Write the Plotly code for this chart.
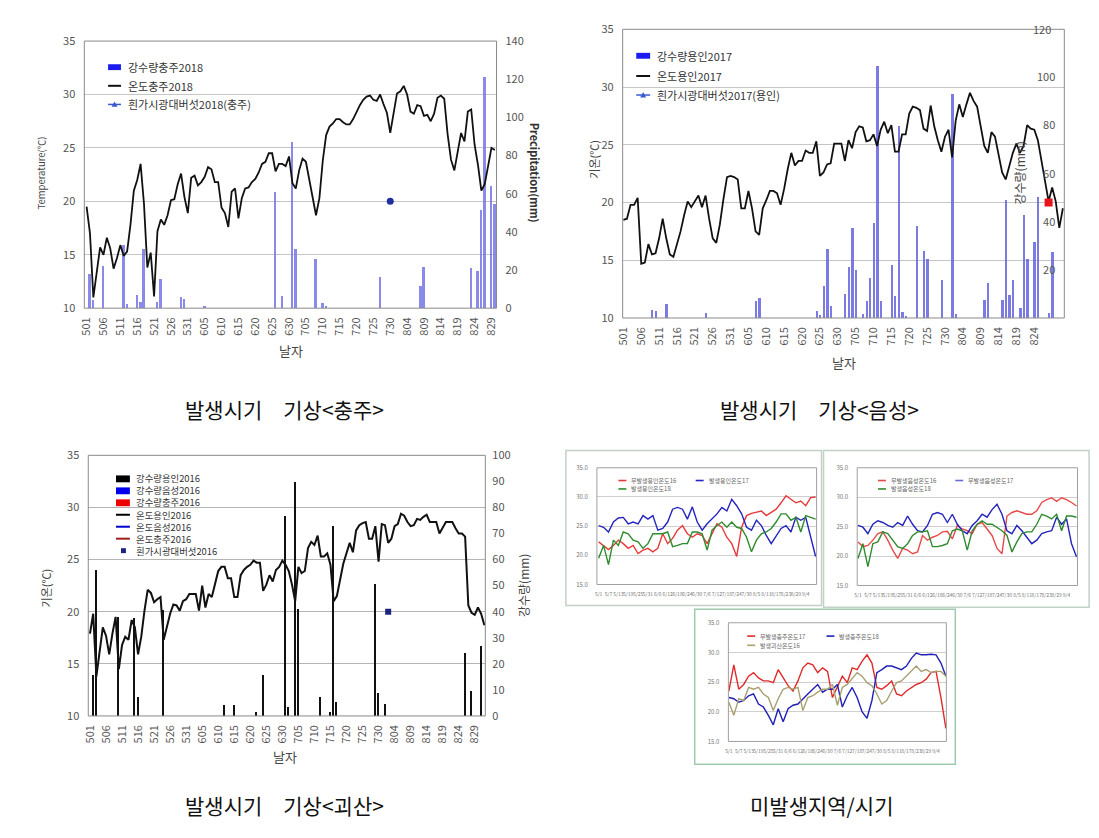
import plotly.graph_objects as go

W, H = 1099, 838
FONT = "Noto Sans CJK KR"

# ---------------- data ----------------
date_labels = ['501', '506', '511', '516', '521', '526', '531', '605', '610', '615', '620', '625', '630',
               '705', '710', '715', '720', '725', '730', '804', '809', '814', '819', '824', '829']

# Panel 1 : Chungju 2018
temp_chungju_2018 = [19.5, 17.0, 11.0, 13.5, 15.7, 15.0, 16.6, 15.6, 13.7, 14.7,
                     15.9, 14.9, 15.3, 17.8, 21.0, 22.0, 23.5, 19.8, 13.8, 15.2,
                     11.1, 17.2, 18.3, 17.8, 18.7, 20.1, 20.2, 21.6, 22.6, 20.4,
                     18.9, 22.2, 22.4, 21.5, 21.8, 22.3, 23.2, 23.0, 21.8, 21.8,
                     19.4, 18.9, 17.6, 20.9, 21.2, 18.4, 20.3, 21.2, 21.3, 21.8,
                     22.1, 22.7, 23.5, 23.7, 24.5, 24.5, 22.8, 23.5, 23.5, 23.3,
                     24.2, 21.7, 21.2, 22.9, 24.0, 23.7, 22.0, 20.4, 18.7, 20.3,
                     23.8, 26.2, 27.0, 27.3, 27.7, 27.7, 27.4, 27.2, 27.2, 27.7,
                     28.4, 29.0, 29.5, 29.8, 29.9, 29.5, 29.4, 30.0, 29.1, 28.3,
                     26.4, 28.2, 30.1, 30.3, 30.8, 30.0, 28.4, 28.2, 29.0, 28.9,
                     28.0, 28.1, 27.5, 28.2, 29.7, 29.9, 29.6, 26.3, 23.9, 22.9,
                     24.8, 26.4, 25.6, 28.4, 28.6, 25.3, 23.4, 21.0, 21.6, 23.2,
                     25.0, 24.8]
rain_chungju_2018_day = [1, 2, 5, 11, 12, 15, 16, 17, 21, 22, 28, 29, 35, 56, 58, 61, 62, 68, 70, 71,
                         87, 99, 100, 114, 116, 117, 118, 120, 121]
rain_chungju_2018_mm = [18, 4, 22, 33, 2, 7, 3, 31, 3.4, 15.4, 6, 4.8, 1, 61, 6.5, 87, 31, 25.7, 2.6, 1.2,
                        16.3, 11.5, 21.4, 21.1, 19.7, 51.4, 121, 63.8, 54.8]
mush_chungju_2018_day = [90]
mush_chungju_2018_temp = [20]

# Panel 2 : Yongin 2017
temp_yongin_2017 = [18.5, 18.6, 19.8, 19.8, 20.4, 14.7, 14.8, 16.4, 15.5, 15.6,
                    16.9, 18.6, 16.9, 15.5, 15.3, 16.4, 17.5, 18.9, 20.1, 19.6,
                    20.1, 20.6, 19.6, 20.6, 18.6, 16.9, 16.5, 18.1, 20.3, 22.2,
                    22.3, 22.2, 22.0, 19.5, 19.5, 21.0, 19.5, 17.5, 17.2, 19.5,
                    20.2, 21.0, 21.0, 20.8, 19.8, 21.2, 22.9, 24.3, 23.2, 23.6,
                    23.6, 24.5, 24.3, 24.3, 25.3, 22.3, 22.6, 23.3, 23.4, 25.1,
                    25.1, 25.1, 23.6, 25.4, 24.7, 26.1, 26.6, 26.5, 25.3, 25.4,
                    25.9, 24.9, 26.3, 27.0, 26.0, 26.7, 24.4, 24.4, 25.9, 25.9,
                    27.7, 28.3, 28.2, 28.0, 26.4, 26.2, 28.4, 26.6, 25.4, 24.4,
                    25.7, 26.3, 23.9, 27.1, 28.5, 27.4, 28.5, 29.5, 28.8, 28.3,
                    26.6, 24.9, 24.3, 26.1, 25.7, 24.0, 22.6, 22.0, 23.2, 24.3,
                    25.1, 24.3, 24.9, 26.7, 26.4, 26.3, 25.4, 23.7, 22.0, 20.1,
                    21.3, 20.1, 17.8, 19.5]
rain_yongin_2017_day = [8, 9, 12, 23, 37, 38, 54, 55, 56, 57, 58, 62, 63, 64, 65, 67, 68, 69, 70, 71,
                        72, 75, 76, 77, 78, 79, 82, 84, 85, 89, 92, 93, 101, 102, 106, 107, 108, 109,
                        111, 112, 113, 115, 116, 119, 120]
rain_yongin_2017_mm = [3.4, 2.7, 5.8, 2.0, 6.8, 8.2, 2.7, 1.0, 13, 28.5, 5, 10, 21, 37.4, 19.7, 1.4, 6.8,
                       16.3, 39.4, 104.6, 6.8, 21.7, 9.1, 79.5, 2.3, 0.7, 38, 27.9, 24.5, 15.6, 92.8, 1.4,
                       7.5, 14.3, 7.5, 49, 9.5, 15.6, 4, 42.8, 24.5, 31.3, 50.3, 2, 27.2]
mush_yongin_2017_day = [119]
mush_yongin_2017_temp = [20]

# Panel 3 : Goesan 2016
temp_goesan_2016 = [17.9, 19.8, 13.8, 16.0, 18.5, 17.7, 15.9, 17.9, 19.5, 14.5,
                    16.8, 17.6, 17.3, 19.2, 18.5, 15.9, 17.6, 20.1, 22.1, 21.8,
                    20.9, 21.2, 21.4, 17.3, 18.5, 19.8, 20.7, 20.6, 20.1, 21.0,
                    21.2, 21.7, 21.7, 21.7, 20.1, 22.5, 20.4, 21.7, 21.4, 22.6,
                    23.9, 24.3, 24.3, 23.2, 23.2, 21.4, 21.4, 23.5, 24.0, 24.3,
                    24.5, 24.9, 24.7, 24.7, 22.0, 22.6, 23.5, 22.9, 24.0, 24.3,
                    24.9, 24.5, 23.9, 22.6, 21.0, 24.3, 23.7, 23.9, 26.1, 26.7,
                    26.4, 27.3, 25.3, 25.3, 25.6, 24.5, 21.0, 21.5, 23.2, 24.6,
                    25.6, 26.6, 25.7, 27.8, 28.3, 28.5, 28.6, 27.0, 27.0, 28.2,
                    24.8, 28.4, 28.3, 26.6, 27.0, 28.2, 28.4, 29.4, 29.2, 28.6,
                    28.2, 28.3, 28.9, 28.8, 29.1, 29.3, 28.6, 28.6, 28.6, 27.5,
                    28.1, 28.6, 28.6, 28.6, 28.0, 27.5, 27.5, 27.2, 20.6, 19.9,
                    19.7, 20.4, 19.8, 18.7]
rain_goesan_2016_day = [1, 2, 9, 14, 15, 23, 42, 45, 52, 54, 61, 62, 64, 65, 72, 75, 76, 77, 89, 90,
                        92, 117, 119, 122]
rain_goesan_2016_mm = [15.6, 55.7, 37.9, 37.3, 7.2, 40.4, 4, 4, 1.5, 15.6, 76.5, 3.4, 89.6, 41, 7.2, 1.3,
                       72.8, 5.3, 50.4, 8.8, 4.3, 24.1, 9.3, 26.6]
mush_goesan_2016_day = [93]
mush_goesan_2016_temp = [20]

# Mini charts (non-occurrence areas / periods)
mini_tick_labels = ['5/1', '5/7', '5/13', '5/19', '5/25', '5/31', '6/6', '6/12', '6/18', '6/24', '6/30',
                    '7/6', '7/12', '7/18', '7/24', '7/30', '8/5', '8/11', '8/17', '8/23', '8/29', '9/4']
mini_y_ticks = [15, 20, 25, 30, 35]

miniA_red = [22.3, 21.7, 21.0, 21.7, 22.6, 22.0, 21.2, 21.7, 20.3, 20.9, 21.2, 20.6, 21.2, 23.7, 22.0,
             22.9, 24.3, 25.1, 23.7, 23.1, 23.7, 23.4, 22.0, 23.7, 25.4, 24.8, 23.1, 22.0, 19.8, 24.8,
             26.8, 27.2, 27.4, 27.6, 26.8, 27.4, 27.9, 29.0, 30.2, 29.6, 29.0, 29.3, 28.5, 29.9, 30.0]
miniA_blue = [25.1, 24.8, 24.0, 25.7, 26.4, 26.5, 25.4, 25.7, 25.4, 26.8, 26.2, 26.8, 24.3, 24.6, 25.7,
              27.9, 28.2, 27.9, 26.2, 28.3, 25.7, 24.3, 25.4, 26.2, 27.1, 28.2, 27.6, 29.6, 28.5, 27.1,
              24.8, 24.3, 26.0, 25.1, 23.4, 22.0, 23.4, 24.6, 25.1, 24.0, 26.5, 26.0, 26.5, 22.9, 19.8]
miniA_green = [19.5, 21.7, 18.4, 22.6, 21.7, 24.0, 23.7, 22.6, 22.3, 21.2, 22.0, 23.7, 23.7, 23.7, 24.0,
               21.5, 21.7, 22.0, 22.0, 24.0, 24.0, 23.7, 20.9, 24.3, 25.1, 25.7, 24.8, 25.7, 24.8, 24.6,
               23.1, 20.6, 22.6, 23.7, 24.0, 24.6, 25.7, 27.1, 27.1, 26.0, 26.5, 24.0, 26.8, 26.5, 26.2]

miniB_red = [22.4, 21.6, 21.8, 22.7, 23.8, 24.1, 22.7, 21.0, 19.6, 21.3, 21.0, 20.4, 20.7, 23.5, 22.7,
             23.2, 23.5, 24.1, 24.2, 22.9, 25.2, 24.6, 24.3, 23.8, 25.4, 25.7, 24.6, 23.5, 21.3, 20.4,
             26.8, 27.4, 27.7, 27.4, 27.1, 27.1, 27.7, 29.1, 29.6, 29.9, 29.3, 29.9, 29.6, 29.1, 28.5]
miniB_blue = [25.2, 24.9, 23.8, 25.4, 26.0, 25.7, 25.2, 24.9, 25.7, 25.2, 26.8, 25.4, 24.3, 24.1, 25.2,
              27.1, 27.4, 27.1, 25.7, 27.1, 25.4, 24.3, 23.8, 25.2, 26.0, 27.1, 26.6, 27.9, 28.8, 27.1,
              24.3, 23.8, 25.2, 24.3, 23.2, 22.1, 22.7, 23.8, 24.1, 24.3, 26.6, 25.4, 26.3, 22.1, 19.9]
miniB_green = [19.6, 22.1, 18.2, 22.1, 22.4, 24.1, 23.8, 22.7, 21.6, 21.3, 22.1, 23.5, 24.1, 24.1, 24.3,
               21.6, 21.6, 21.8, 22.1, 24.3, 24.6, 24.3, 21.0, 24.3, 25.4, 26.0, 25.4, 25.4, 24.9, 24.3,
               23.5, 20.7, 22.4, 23.8, 24.1, 24.1, 25.4, 27.1, 26.8, 26.3, 27.1, 24.3, 26.8, 26.8, 26.6]

miniC_red = [23.5, 27.9, 23.8, 24.6, 26.0, 26.6, 25.7, 25.2, 25.2, 24.9, 27.1, 25.7, 24.4, 23.5, 25.2,
             27.4, 28.2, 27.9, 26.6, 27.4, 26.8, 22.4, 24.1, 26.0, 24.9, 27.4, 27.1, 28.5, 29.6, 28.2,
             24.1, 23.8, 24.4, 25.2, 23.0, 22.7, 23.5, 24.1, 24.6, 24.9, 25.5, 26.6, 26.8, 22.4, 17.2]
miniC_blue = [22.4, 22.2, 21.6, 21.9, 22.7, 23.0, 21.3, 20.8, 19.4, 17.8, 20.5, 18.3, 20.5, 21.1, 21.3,
              22.2, 23.0, 23.8, 24.6, 23.3, 23.8, 23.8, 24.6, 20.8, 22.7, 24.1, 22.4, 20.0, 18.9, 21.9,
              26.6, 27.1, 27.7, 27.7, 27.4, 27.1, 27.7, 29.0, 29.9, 29.6, 29.6, 29.7, 29.6, 28.2, 26.0]
miniC_olive = [21.6, 19.4, 22.2, 21.9, 24.1, 23.8, 24.1, 23.0, 22.4, 20.2, 22.2, 23.8, 24.1, 23.8, 24.1,
               20.2, 22.4, 22.7, 23.3, 23.8, 23.8, 24.6, 21.1, 24.1, 24.6, 25.7, 26.6, 26.0, 24.9, 24.4,
               23.0, 21.3, 21.9, 23.5, 24.9, 25.2, 26.0, 26.8, 27.7, 26.8, 27.1, 26.6, 26.8, 26.8, 26.0]

# ---------------- helpers ----------------
def fx(p):
    return p / W


def fy(p):
    return 1 - p / H


shapes = []
annotations = []


def text(x, y, s, size, color='#333', xanchor='left', angle=0, bold=False, align='left'):
    if bold:
        s = '<b>' + s + '</b>'
    annotations.append(dict(x=fx(x), y=fy(y), xref='paper', yref='paper', text=s, showarrow=False,
                            xanchor=xanchor, yanchor='middle', textangle=angle, align=align,
                            font=dict(family=FONT, size=size, color=color)))


def leg_rect(x0, x1, yc, h, color):
    shapes.append(dict(type='rect', xref='paper', yref='paper', x0=fx(x0), x1=fx(x1),
                       y0=fy(yc + h / 2), y1=fy(yc - h / 2), fillcolor=color, line=dict(width=0)))


def leg_line(x0, x1, yc, color, w=1.8):
    shapes.append(dict(type='line', xref='paper', yref='paper', x0=fx(x0), x1=fx(x1),
                       y0=fy(yc), y1=fy(yc), line=dict(color=color, width=w)))


def leg_tri(xc, yc, s, color):
    path = (f"M {fx(xc - s)},{fy(yc + s * 0.8)} L {fx(xc + s)},{fy(yc + s * 0.8)} "
            f"L {fx(xc)},{fy(yc - s)} Z")
    shapes.append(dict(type='path', xref='paper', yref='paper', path=path, fillcolor=color,
                       line=dict(width=0)))


def box(x0, y0, x1, y1, color, w=1.2):
    shapes.append(dict(type='rect', xref='paper', yref='paper', x0=fx(x0), x1=fx(x1),
                       y0=fy(y1), y1=fy(y0), line=dict(color=color, width=w), fillcolor='rgba(0,0,0,0)'))


def frame(xa, ya, color='#8a8a8a', w=1):
    shapes.append(dict(type='rect', xref=xa + ' domain', yref=ya + ' domain', x0=0, x1=1, y0=0, y1=1,
                       line=dict(color=color, width=w), layer='above'))


axis_font = dict(family=FONT, size=11, color='#555')


def date_axis(left, right, rng, anchor):
    return dict(domain=[fx(left), fx(right)], range=rng, anchor=anchor,
                tickmode='array', tickvals=list(range(0, 5 * len(date_labels), 5)), ticktext=date_labels,
                tickangle=-90, tickfont=axis_font, showgrid=False, zeroline=False, showline=False,
                ticks='', ticklabelstandoff=6)


def temp_axis(overlay, anchor, gridcolor):
    return dict(overlaying=overlay, anchor=anchor, side='left', range=[10, 35],
                tickvals=[10, 15, 20, 25, 30, 35], showgrid=True, gridcolor=gridcolor, gridwidth=1,
                zeroline=False, showline=False, tickfont=axis_font, ticks='', ticklabelstandoff=8)


def rain_axis(top, bottom, anchor, maxv, step, inside=False, standoff=8):
    return dict(domain=[fy(bottom), fy(top)], anchor=anchor, side='right', range=[0, maxv],
                tickvals=list(range(0, maxv + 1, step)), showgrid=False, zeroline=False, showline=False,
                tickfont=axis_font, ticks='', ticklabelstandoff=standoff,
                ticklabelposition='inside' if inside else 'outside')


def mini_axes(left, right, top, bottom, rng, xname, yname):
    xa = dict(domain=[fx(left), fx(right)], anchor=yname, range=rng, tickmode='array',
              tickvals=list(range(0, 2 * len(mini_tick_labels), 2)), ticktext=mini_tick_labels,
              tickfont=dict(family=FONT, size=5, color='#777'), tickangle=0, showgrid=False,
              zeroline=False, showline=False, ticks='', ticklabelstandoff=6)
    ya = dict(domain=[fy(bottom), fy(top)], anchor=xname, range=[15, 35], tickmode='array',
              tickvals=mini_y_ticks, ticktext=[f"{v:.1f}" for v in mini_y_ticks],
              tickfont=dict(family=FONT, size=6, color='#777'), showgrid=True, gridcolor='#cfcfcf',
              zeroline=False, showline=False, ticks='', ticklabelstandoff=8)
    return xa, ya


# ---------------- figure ----------------
fig = go.Figure()

# Panel 1
fig.add_trace(go.Bar(x=rain_chungju_2018_day, y=rain_chungju_2018_mm, xaxis='x', yaxis='y', width=0.75,
                     marker=dict(color='rgba(118,118,228,0.85)', line=dict(width=0)), showlegend=False))
fig.add_trace(go.Scatter(x=list(range(len(temp_chungju_2018))), y=temp_chungju_2018, xaxis='x', yaxis='y2',
                         mode='lines', line=dict(color='#111', width=1.8), showlegend=False))
fig.add_trace(go.Scatter(x=mush_chungju_2018_day, y=mush_chungju_2018_temp, xaxis='x', yaxis='y2',
                         mode='markers', marker=dict(color='#1f2f9f', size=7, symbol='circle'),
                         showlegend=False))

# Panel 2
fig.add_trace(go.Bar(x=rain_yongin_2017_day, y=rain_yongin_2017_mm, xaxis='x2', yaxis='y3', width=0.65,
                     marker=dict(color='rgba(100,100,220,0.85)', line=dict(width=0)), showlegend=False))
fig.add_trace(go.Scatter(x=list(range(len(temp_yongin_2017))), y=temp_yongin_2017, xaxis='x2', yaxis='y4',
                         mode='lines', line=dict(color='#111', width=1.8), showlegend=False))
fig.add_trace(go.Scatter(x=mush_yongin_2017_day, y=mush_yongin_2017_temp, xaxis='x2', yaxis='y4',
                         mode='markers', marker=dict(color='#e8141c', size=8, symbol='square'),
                         showlegend=False))

# Panel 3
fig.add_trace(go.Bar(x=rain_goesan_2016_day, y=rain_goesan_2016_mm, xaxis='x3', yaxis='y5', width=0.4,
                     marker=dict(color='#111', line=dict(width=0)), showlegend=False))
fig.add_trace(go.Scatter(x=list(range(len(temp_goesan_2016))), y=temp_goesan_2016, xaxis='x3', yaxis='y6',
                         mode='lines', line=dict(color='#111', width=2), showlegend=False))
fig.add_trace(go.Scatter(x=mush_goesan_2016_day, y=mush_goesan_2016_temp, xaxis='x3', yaxis='y6',
                         mode='markers', marker=dict(color='#1a237e', size=6, symbol='square'),
                         showlegend=False))

# Mini charts
mini_sets = [
    ('x4', 'y7', [(miniA_red, '#e83a3a'), (miniA_blue, '#2424c0'), (miniA_green, '#2e8b2e')]),
    ('x5', 'y8', [(miniB_red, '#e84a4a'), (miniB_blue, '#2424c0'), (miniB_green, '#2e8b2e')]),
    ('x6', 'y9', [(miniC_red, '#e02a2a'), (miniC_blue, '#2020b8'), (miniC_olive, '#a8a070')]),
]
for xa, ya, series in mini_sets:
    for vals, col in series:
        fig.add_trace(go.Scatter(x=list(range(len(vals))), y=vals, xaxis=xa, yaxis=ya, mode='lines',
                                 line=dict(color=col, width=1.4), showlegend=False))

# ---------------- layout ----------------
layout = dict(
    width=W, height=H, autosize=False, margin=dict(l=0, r=0, t=0, b=0),
    paper_bgcolor='white', plot_bgcolor='white', bargap=0,
    font=dict(family=FONT),
    xaxis=date_axis(76, 492, [-0.68, 121.5], 'y'),
    yaxis=rain_axis(32.7, 305, 'x', 140, 20),
    yaxis2=temp_axis('y', 'x', '#c6c6c6'),
    xaxis2=date_axis(619.3, 1065, [-0.2, 123.4], 'y3'),
    yaxis3=rain_axis(20.7, 315, 'x2', 120, 20, inside=True, standoff=6),
    yaxis4=temp_axis('y3', 'x2', '#c6c6c6'),
    xaxis3=date_axis(80, 480.7, [-0.53, 123.3], 'y5'),
    yaxis5=rain_axis(455, 720.7, 'x3', 100, 10, standoff=6),
    yaxis6=temp_axis('y5', 'x3', '#b4b4b4'),
)
layout['xaxis4'], layout['yaxis7'] = mini_axes(593.3, 815, 467.7, 586.7, [-0.35, 44.2], 'x4', 'y7')
layout['xaxis5'], layout['yaxis8'] = mini_axes(856, 1078.3, 467.7, 587.7, [-0.15, 44.2], 'x5', 'y8')
layout['xaxis6'], layout['yaxis9'] = mini_axes(726, 946, 625.7, 746.7, [-0.1, 44.1], 'x6', 'y9')

# frames of plot areas
frame('x', 'y')
frame('x2', 'y3')
frame('x3', 'y5')
frame('x4', 'y7', '#a0a0a0')
frame('x5', 'y8', '#a0a0a0')
frame('x6', 'y9', '#a0a0a0')

# outer boxes of mini charts
box(562, 450, 820, 608, '#c2d2c6', 1.5)
box(822, 450, 1090, 610, '#c2d2c6', 1.5)
box(692, 612, 955, 770, '#9fc9ac', 1.5)

# ---- Panel 1 texts / legend
text(32, 167, 'Temperature(℃)', 9.5, '#444', 'center', -90)
text(531.7, 166.7, 'Precipitation(mm)', 11, '#333', 'center', 90, bold=True)
text(285, 348, '날자', 13, '#444', 'center')
leg_rect(100, 113, 59.3, 6, '#1c1cf0')
leg_line(100, 113, 78.3, '#111', 2)
leg_line(100, 113, 97.3, '#3a5ad0', 1.5)
leg_tri(106.5, 97.3, 3, '#3a5ad0')
text(118, 59.3, '강수량충주2018', 11, '#333')
text(118, 78.3, '온도충주2018', 11, '#333')
text(118, 97.3, '흰가시광대버섯2018(충주)', 11, '#333')

# ---- Panel 2 texts / legend
text(590, 153, '기온(℃)', 11, '#444', 'center', -90)
text(1020, 167, '강수량(mm)', 12, '#444', 'center', -90)
text(843, 360, '날자', 13, '#444', 'center')
text(1054, 20.7, '120', 11, '#555', 'right')
leg_rect(633, 647, 47.7, 6, '#1c1cf0')
leg_line(633, 647, 68.3, '#111', 2)
leg_line(633, 647, 87.7, '#3a5ad0', 1.5)
leg_tri(640, 87.7, 3, '#3a5ad0')
text(652, 47.7, '강수량용인2017', 11, '#333')
text(652, 68.3, '온도용인2017', 11, '#333')
text(652, 87.7, '흰가시광대버섯2017(용인)', 11, '#333')

# ---- Panel 3 texts / legend
text(37, 590, '기온(℃)', 11, '#444', 'center', -90)
text(519, 588, '강수량(mm)', 12, '#444', 'center', -90)
text(279, 762, '날자', 13, '#444', 'center')
leg_rows = [479, 491.2, 503.4, 515.6, 527.8, 540, 552.2]
leg_rect(108, 122, leg_rows[0], 7, '#000000')
leg_rect(108, 122, leg_rows[1], 7, '#0000ee')
leg_rect(108, 122, leg_rows[2], 7, '#ee0000')
leg_line(108, 122, leg_rows[3], '#000000', 2)
leg_line(108, 122, leg_rows[4], '#0000cc', 2)
leg_line(108, 122, leg_rows[5], '#a01e1e', 2)
leg_rect(113, 118, leg_rows[6], 5, '#1a237e')
p3_labels = ['강수량용인2016', '강수량음성2016', '강수량충주2016', '온도용인2016', '온도음성2016',
             '온도충주2016', '흰가시광대버섯2016']
text(126, (leg_rows[0] + leg_rows[-1]) / 2, '<br>'.join(p3_labels), 9.4, '#333')

# ---- Mini legends
mini_leg = [
    (615, 693, 480.7, 489.3, ['무발생용인온도16', '발생용인온도17', '발생용인온도18'],
     ['#e83a3a', '#2424c0', '#2e8b2e']),
    (877, 955, 480.7, 489.3, ['무발생음성온도16', '무발생음성온도17', '발생음성온도18'],
     ['#e84a4a', '#6a6ad0', '#2e8b2e']),
    (745, 825, 639.3, 648.7, ['무발생충주온도17', '발생충주온도18', '발생괴산온도16'],
     ['#e02a2a', '#2020b8', '#a8a070']),
]
for x1, x2, r1, r2, labs, cols in mini_leg:
    leg_line(x1, x1 + 8, r1, cols[0], 1.6)
    text(x1 + 11, r1, labs[0], 6, '#666')
    leg_line(x2, x2 + 8, r1, cols[1], 1.6)
    text(x2 + 11, r1, labs[1], 6, '#666')
    leg_line(x1, x1 + 8, r2, cols[2], 1.6)
    text(x1 + 11, r2, labs[2], 6, '#666')

# ---- Captions
text(278, 408, '발생시기\u3000기상&lt;충주&gt;', 21, '#111', 'center')
text(818, 408, '발생시기\u3000기상&lt;음성&gt;', 21, '#111', 'center')
text(278, 812, '발생시기\u3000기상&lt;괴산&gt;', 21, '#111', 'center')
text(820, 812, '미발생지역/시기', 21, '#111', 'center')

layout['shapes'] = shapes
layout['annotations'] = annotations
fig.update_layout(**layout)

fig.write_html("out.html")
